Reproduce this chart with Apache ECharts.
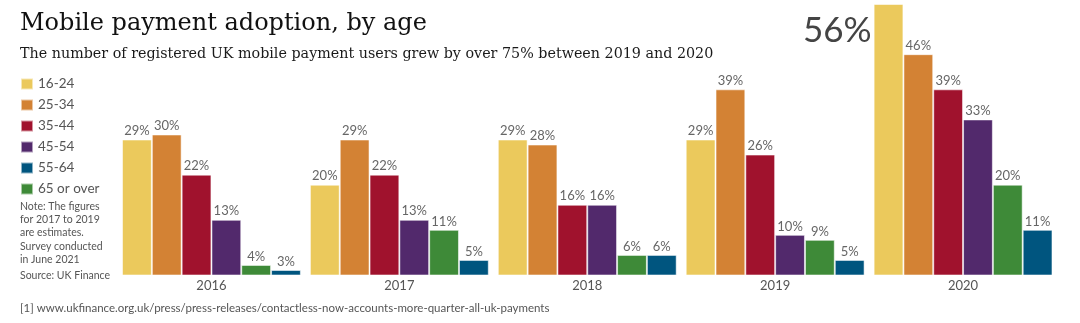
<!DOCTYPE html>
<html>
<head>
<meta charset="utf-8">
<script src="https://cdn.jsdelivr.net/npm/echarts@6/dist/echarts.min.js"></script>
<style>
html,body{margin:0;padding:0;background:#fff;}
#main{width:1080px;height:323px;}
</style>
</head>
<body>
<div id="main"></div>
<script>
const years = ['2016', '2017', '2018', '2019', '2020'];
const legendOrder = ['16-24', '25-34', '35-44', '45-54', '55-64', '65 or over'];
const age16_24 = [29, 20, 29, 29, 56];
const age25_34 = [30, 29, 28, 39, 46];
const age35_44 = [22, 22, 16, 26, 39];
const age45_54 = [13, 13, 16, 10, 33];
const age65plus = [4, 11, 6, 9, 20];
const age55_64 = [3, 5, 6, 5, 11];

const titleText = 'Mobile payment adoption, by age';
const subtitleText = 'The number of registered UK mobile payment users grew by over 75% between 2019 and 2020';
const noteLines = ['Note: The figures', 'for 2017 to 2019', 'are estimates.', 'Survey conducted', 'in June 2021'];
const sourceText = 'Source: UK Finance';
const footnoteText = '[1] www.ukfinance.org.uk/press/press-releases/contactless-now-accounts-more-quarter-all-uk-payments';

const seriesDefs = [
  {name: '16-24', data: age16_24, color: '#EBC95C'},
  {name: '25-34', data: age25_34, color: '#D38234'},
  {name: '35-44', data: age35_44, color: '#A0122D'},
  {name: '45-54', data: age45_54, color: '#52296C'},
  {name: '65 or over', data: age65plus, color: '#3E8A38'},
  {name: '55-64', data: age55_64, color: '#00557F'}
];

const SANS = 'Lato';
const chart = echarts.init(document.getElementById('main'));

const series = seriesDefs.map((s, si) => ({
  type: 'bar',
  name: s.name,
  barGap: '0%',
  barCategoryGap: '4.8%',
  itemStyle: {color: s.color, borderColor: 'rgba(255,255,255,0.55)', borderWidth: 1},
  label: {show: true, position: 'top', distance: 2, formatter: '{c}%', color: '#666', fontFamily: SANS, fontSize: 13},
  data: s.data.map((v, i) => {
    if (si === 0 && i === s.data.length - 1) {
      return {value: v, label: {position: [-2, 9], align: 'right', verticalAlign: 'top', fontSize: 35, color: '#444'}};
    }
    return v;
  }),
  animation: false
}));

const noteGraphics = noteLines.map((t, i) => ({
  type: 'text', left: 20, top: 201 + i * 13.3,
  style: {text: t, fill: '#555', font: '10.5px ' + SANS}
}));

chart.setOption({
  animation: false,
  grid: {left: 117.5, right: 23, top: 4, bottom: 48},
  xAxis: {
    type: 'category', data: years,
    axisLine: {show: false}, axisTick: {show: false},
    axisLabel: {color: '#555', fontFamily: SANS, fontSize: 13, margin: 4}
  },
  yAxis: {type: 'value', min: 2, max: 56, show: false, splitLine: {show: false}},
  legend: {
    data: legendOrder, orient: 'vertical', left: 15, top: 72,
    itemWidth: 12, itemHeight: 11, itemGap: 7, icon: 'rect',
    textStyle: {color: '#555', fontFamily: SANS, fontSize: 13.5}
  },
  graphic: [
    {type: 'text', left: 20, top: 12, style: {text: titleText, fill: '#111', font: '24px "DejaVu Serif"'}},
    {type: 'text', left: 20, top: 47, style: {text: subtitleText, fill: '#1a1a1a', font: '14.3px "DejaVu Serif"'}},
    ...noteGraphics,
    {type: 'text', left: 20, top: 270, style: {text: sourceText, fill: '#555', font: '10.5px ' + SANS}},
    {type: 'text', left: 20, top: 302, style: {text: footnoteText, fill: '#555', font: '11.5px ' + SANS}}
  ],
  series: series
});
</script>
</body>
</html>
